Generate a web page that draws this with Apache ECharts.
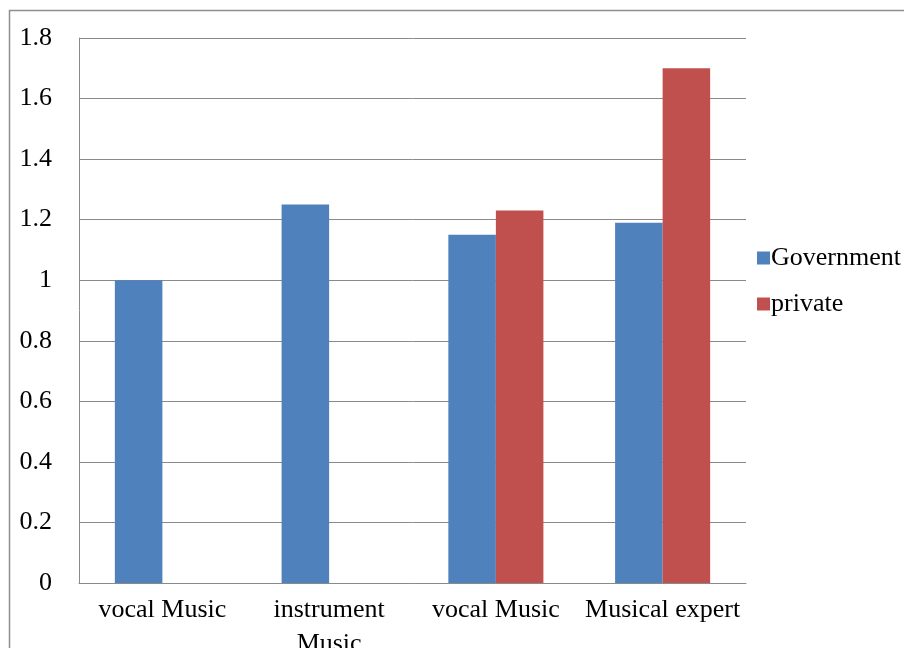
<!DOCTYPE html>
<html>
<head>
<meta charset="utf-8">
<style>
  html, body { margin: 0; padding: 0; background: #ffffff; }
  #chart { width: 904px; height: 648px; }
</style>
<script src="https://cdn.jsdelivr.net/npm/echarts@6/dist/echarts.min.js"></script>
</head>
<body>
<div id="chart"></div>
<script>
// Categories along the x axis
const categories = ['vocal Music', 'instrument\nMusic', 'vocal Music', 'Musical expert'];
// Series values (null = no bar)
const government = [1.0, 1.25, 1.15, 1.19];
const privateSector = [null, null, 1.23, 1.7];
// Value axis range
const yMin = 0, yMax = 1.8, yStep = 0.2;

const serif = '"Liberation Serif", "DejaVu Serif", serif';
const gridColor = '#8a8a8a';
const fontSize = 26;

const chart = echarts.init(document.getElementById('chart'));
chart.setOption({
  animation: false,
  backgroundColor: '#ffffff',
  graphic: [{
    type: 'rect',
    shape: { x: 9.5, y: 10.5, width: 1000, height: 1000 },
    style: { fill: 'none', stroke: '#8e8e8e', lineWidth: 1.5 },
    silent: true
  }],
  grid: { left: 79, top: 38, right: 158, bottom: 65, containLabel: false, outerBoundsMode: 'none' },
  legend: {
    orient: 'vertical',
    left: 752,
    top: 240,
    itemWidth: 13,
    itemHeight: 13,
    itemGap: 20,
    icon: 'rect',
    textStyle: { fontFamily: serif, fontSize: fontSize, color: '#000', padding: [0, 0, 0, -4] },
    data: ['Government', 'private']
  },
  xAxis: {
    type: 'category',
    data: categories,
    axisLine: { show: true, lineStyle: { color: gridColor, width: 1 } },
    axisTick: { show: false },
    axisLabel: {
      interval: 0,
      margin: 10,
      fontFamily: serif,
      fontSize: fontSize,
      lineHeight: 34,
      color: '#000',
      verticalAlign: 'top'
    }
  },
  yAxis: {
    type: 'value',
    min: yMin,
    max: yMax,
    interval: yStep,
    axisLine: { show: true, lineStyle: { color: gridColor, width: 1 } },
    axisTick: { show: false },
    splitLine: { show: true, lineStyle: { color: gridColor, width: 1 } },
    axisLabel: {
      margin: 27,
      fontFamily: serif,
      fontSize: fontSize,
      color: '#000'
    }
  },
  series: [
    {
      name: 'Government',
      type: 'bar',
      data: government,
      barGap: '0%',
      barCategoryGap: '43%',
      itemStyle: { color: '#4F81BD' }
    },
    {
      name: 'private',
      type: 'bar',
      data: privateSector,
      itemStyle: { color: '#C0504D' }
    }
  ]
});
</script>
</body>
</html>
